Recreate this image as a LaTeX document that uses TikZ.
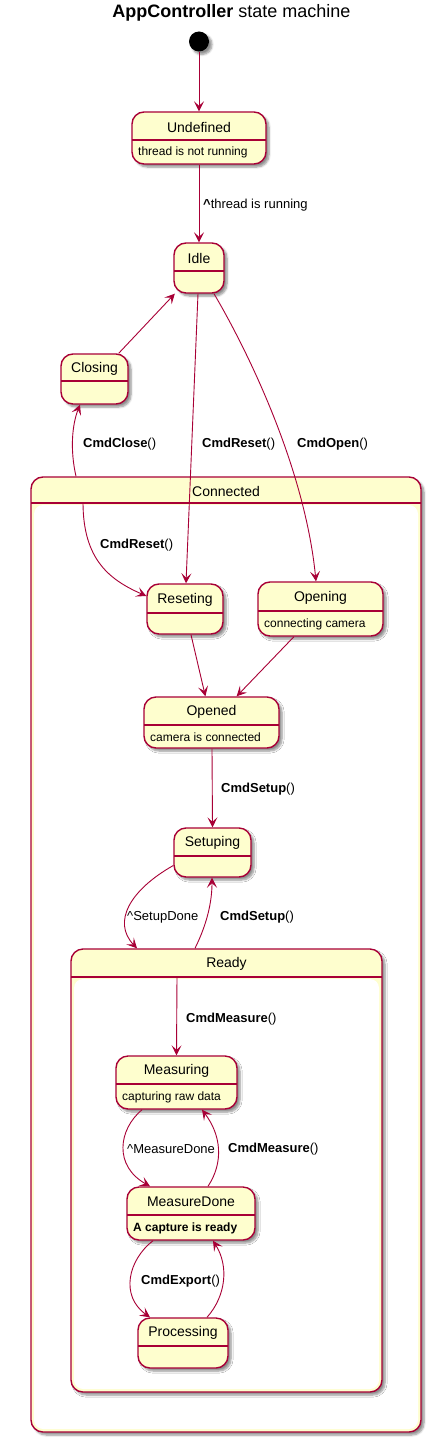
\documentclass[tikz,border=0pt]{standalone}
\usepackage{fontspec}
\setmainfont{Liberation Sans}
\usetikzlibrary{arrows.meta,fit,shadows.blur,calc}
\definecolor{umlred}{HTML}{A80036}
\definecolor{umlfill}{HTML}{FEFECE}
\tikzset{
  shadowed/.style={blur shadow={shadow xshift=3pt,shadow yshift=-3pt,shadow blur steps=6,shadow opacity=45}},
  statebox/.style={draw=umlred,fill=umlfill,line width=1.4pt,rounded corners=12pt,inner sep=0pt,shadowed},
  compbox/.style={draw=umlred,fill=umlfill,line width=1.4pt,rounded corners=12pt,inner sep=0pt,shadowed},
  sepline/.style={draw=umlred,line width=1.2pt},
  nametext/.style={inner sep=0pt,font=\fontsize{14}{16}\selectfont},
  desctext/.style={inner sep=0pt,anchor=west,font=\fontsize{12}{14}\selectfont},
  lbl/.style={inner sep=0pt,anchor=west,font=\fontsize{13}{15}\selectfont},
  arr/.style={draw=umlred,line width=0.9pt,-{Stealth[length=10pt,width=10pt,inset=4.5pt]}},
  initdot/.style={circle,fill=black,minimum size=20pt,inner sep=0pt,shadowed}
}
\newcommand\umlstate[8]{%
  \node[statebox,fit={(#2,#3)(#4,#5)}] (#1) {};
  \draw[sepline] (#2,#6) -- (#4,#6);
  \node[nametext] (#1-name) at ({(#2+#4)/2},{(#3+#6)/2+1.2}) {#7};
  \node[desctext] (#1-desc) at ({#2+6},{(#6+#5)/2+0.5}) {#8};
}
\newcommand\umlcomp[8]{%
  \node[compbox,fit={(#2,#3)(#4,#5)}] (#1) {};
  \draw[sepline] (#2,#6) -- (#4,#6);
  \fill[white,rounded corners=9pt] ({#2+3},{#6+2}) rectangle ({#4-3},{#5-3});
  \node[nametext] (#1-name) at ({(#2+#4)/2},{(#3+#6)/2+1}) {#7};
}
\begin{document}
\begin{tikzpicture}[x=1pt,y=-1pt]
\useasboundingbox (0,0) rectangle (432,1442);
\node[inner sep=0pt,font=\fontsize{18}{20}\selectfont] (title) at (231.5,13) {\textbf{AppController} state machine};

% composite states
\umlcomp{Connected}{31}{477}{421}{1432}{503}{Connected}{}
\umlcomp{Ready}{71}{949}{382}{1392}{977}{Ready}{}

% initial
\node[initdot] (init) at (199,41.5) {};

% simple states
\umlstate{Undefined}{132}{112}{266}{164}{140}{Undefined}{thread is not running}
\umlstate{Idle}{174}{243}{224}{293}{271}{Idle}{}
\umlstate{Closing}{61}{354}{128}{404}{381}{Closing}{}
\umlstate{Reseting}{147}{584}{223}{634}{613}{Reseting}{}
\umlstate{Opening}{258}{582}{383}{636}{611}{Opening}{connecting camera}
\umlstate{Opened}{144}{697}{279}{748}{725}{Opened}{camera is connected}
\umlstate{Setuping}{174}{828}{251}{877}{856}{Setuping}{}
\umlstate{Measuring}{116}{1056}{237}{1109}{1084}{Measuring}{capturing raw data}
\umlstate{MeasureDone}{127}{1187}{255}{1240}{1215}{MeasureDone}{\textbf{A capture is ready}}
\umlstate{Processing}{138}{1318}{228}{1368}{1346}{Processing}{}

% transitions
\draw[arr] (init) -- (Undefined);
\draw[arr] (Undefined) -- (Idle);
\node[lbl] (l1) at (203,205) {\textbf{\textasciicircum}thread is running};

\draw[arr] (Closing) -- (Idle);

\draw[arr] ([xshift=-150pt]Connected.north) .. controls (70,450) and (72,425) .. ([xshift=-14.5pt]Closing.south);
\node[lbl] (l2) at (83,444) {\textbf{CmdClose}()};

\draw[arr] ([xshift=-1pt]Idle.south) -- ([xshift=1pt]Reseting.north);
\node[lbl] (l3) at (202,444) {\textbf{CmdReset}()};

\draw[arr] ([xshift=15pt]Idle.south) .. controls (250,355) and (305,470) .. ([xshift=-4.5pt]Opening.north);
\node[lbl] (l4) at (297,444) {\textbf{CmdOpen}()};

\draw[arr] ([shift={(-143pt,-26pt)}]Connected.north) .. controls (83,560) and (110,580) .. ([yshift=13pt]Reseting.west);
\node[lbl] (l5) at (100,545) {\textbf{CmdReset}()};

\draw[arr] (Reseting) -- (Opened);
\draw[arr] (Opening) -- (Opened);

\draw[arr] ([xshift=0.5pt]Opened.south) -- (Setuping.north);
\node[lbl] (l6) at (221,789) {\textbf{CmdSetup}()};

\draw[arr] ([yshift=-13pt]Setuping.west) .. controls (130,890) and (112,922) .. ([xshift=-89.5pt]Ready.north);
\node[lbl] (l7) at (127,917) {\textasciicircum SetupDone};

\draw[arr] ([xshift=-31.5pt]Ready.north) .. controls (208,922) and (212,900) .. ([xshift=-0.5pt]Setuping.south);
\node[lbl] (l8) at (220,917) {\textbf{CmdSetup}()};

\draw[arr] ([shift={(-49.5pt,-28pt)}]Ready.north) -- (Measuring.north);
\node[lbl] (l9) at (186,1019) {\textbf{CmdMeasure}()};

\draw[arr] ([xshift=-34.5pt]Measuring.south) .. controls (118,1130) and (114,1166) .. ([xshift=-41pt]MeasureDone.north);
\node[lbl] (l10) at (127,1149) {\textasciicircum MeasureDone};

\draw[arr] ([xshift=17pt]MeasureDone.north) .. controls (224,1162) and (221,1135) .. ([xshift=25.5pt]Measuring.south);
\node[lbl] (l11) at (228,1149) {\textbf{CmdMeasure}()};

\draw[arr] ([xshift=-38pt]MeasureDone.south) .. controls (128,1260) and (120,1296) .. ([xshift=-33pt]Processing.north);
\node[lbl] (l12) at (141,1281) {\textbf{CmdExport}()};

\draw[arr] ([xshift=24pt]Processing.north) .. controls (226,1296) and (229,1266) .. ([xshift=22pt]MeasureDone.south);
\end{tikzpicture}
\end{document}
